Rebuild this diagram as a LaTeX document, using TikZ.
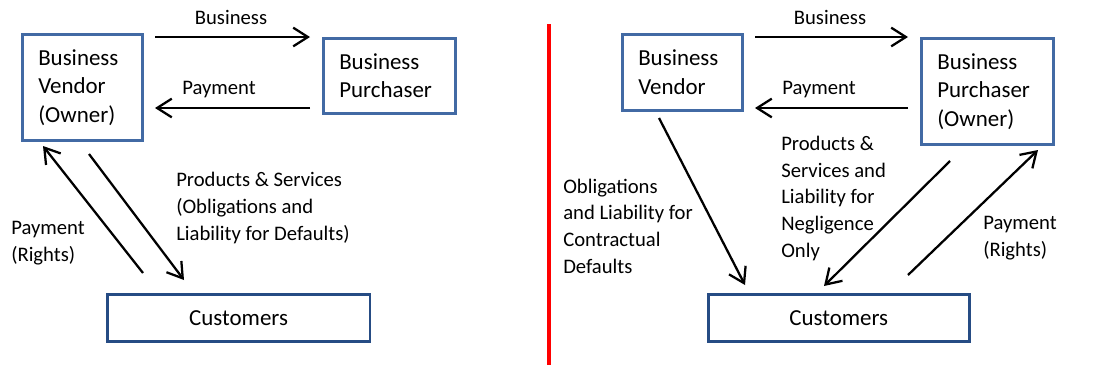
\documentclass[tikz,border=0pt]{standalone}
\usepackage{fontspec}
\setmainfont{Carlito}
\usetikzlibrary{arrows.meta}
\definecolor{boxblue}{RGB}{66,106,164}
\definecolor{custblue}{RGB}{38,76,132}
\begin{document}
\begin{tikzpicture}[x=0.75pt,y=-0.75pt,
  party/.style={draw=boxblue,line width=1.9pt,anchor=north west,align=left,
    inner xsep=12pt,inner ysep=0pt,font=\fontsize{17.2}{21.4}\selectfont},
  custbox/.style={draw=custblue,line width=1.9pt,anchor=north west,align=center,
    minimum width=197pt,minimum height=35.25pt,inner sep=0pt,
    font=\fontsize{17.2}{21.4}\selectfont},
  lbl/.style={anchor=base west,align=left,inner sep=0pt,
    font=\fontsize{15.5}{20}\selectfont},
  flow/.style={line width=1.7pt,-{Straight Barb[length=11pt,width=14pt,line width=1.7pt]}}]
\useasboundingbox (0,0) rectangle (1093,365);

% ---- sale of the vendor's business (left) ----
\node[party,text width=66pt,minimum height=79.5pt] (vendL) at (21,33)
  {Business\\Vendor\\(Owner)};
\node[party,text width=75pt,minimum height=56.25pt] (purL) at (322,37)
  {Business\\Purchaser};
\node[custbox] (custL) at (106,293) {Customers};

\coordinate (bizLa) at (155,37);  \coordinate (bizLb) at (310,37);
\coordinate (payLa) at (310,108); \coordinate (payLb) at (155,108);
\coordinate (rgtLa) at (143,273); \coordinate (rgtLb) at (43,146);
\coordinate (oblLa) at (89,154);  \coordinate (oblLb) at (184,280);

\draw[flow] (bizLa) -- (bizLb);
\draw[flow] (payLa) -- (payLb);
\draw[flow] (rgtLa) -- (rgtLb);
\draw[flow] (oblLa) -- (oblLb);

% multi-line labels are placed by the baseline of their last line
\node[lbl,anchor=base] (tBizL) at (231,24) {Business};
\node[lbl] (tPayL) at (182,94) {Payment};
\node[lbl] (tRgtL) at (11,261) {Payment\\(Rights)};
\node[lbl] (tOblL) at (176,240) {Products \& Services\\(Obligations and\\Liability for Defaults)};

% ---- divider ----
\coordinate (divTop) at (549,24);
\coordinate (divBot) at (549,365);
\draw[red,line width=2.3pt] (divTop) -- (divBot);

% ---- sale to the purchaser as owner (right) ----
\node[party,text width=66pt,minimum height=57pt] (vendR) at (621,33)
  {Business\\Vendor};
\node[party,text width=75pt,minimum height=79.5pt] (purR) at (920,37)
  {Business\\Purchaser\\(Owner)};
\node[custbox,minimum width=195.75pt] (custR) at (707,293) {Customers};

\coordinate (bizRa) at (755,37);  \coordinate (bizRb) at (908,37);
\coordinate (payRa) at (908,108); \coordinate (payRb) at (755,108);
\coordinate (oblRa) at (659,118); \coordinate (oblRb) at (745,285);
\coordinate (negRa) at (950,161); \coordinate (negRb) at (824,286);
\coordinate (rgtRa) at (908,275); \coordinate (rgtRb) at (1038,150);

\draw[flow] (bizRa) -- (bizRb);
\draw[flow] (payRa) -- (payRb);
\draw[flow] (oblRa) -- (oblRb);
\draw[flow] (negRa) -- (negRb);
\draw[flow] (rgtRa) -- (rgtRb);

\node[lbl,anchor=base] (tBizR) at (830,24) {Business};
\node[lbl] (tPayR) at (782,94) {Payment};
\node[lbl] (tOblR) at (563,273) {Obligations\\and Liability for\\Contractual\\Defaults};
\node[lbl] (tNegR) at (781,257) {Products \&\\Services and\\Liability for\\Negligence\\Only};
\node[lbl] (tRgtR) at (983,256) {Payment\\(Rights)};
\end{tikzpicture}
\end{document}
